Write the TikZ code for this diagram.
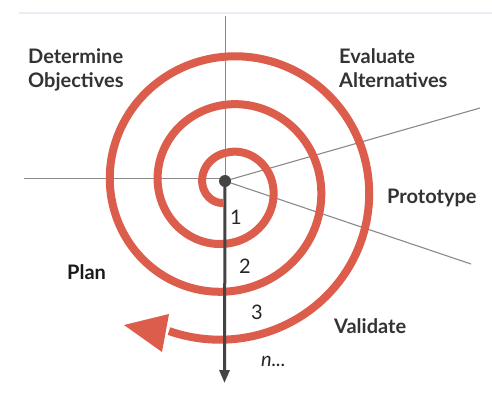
\documentclass[tikz,border=0pt]{standalone}
\usepackage{fontspec}
\setmainfont{Lato}
\usetikzlibrary{arrows.meta}
\definecolor{spiralred}{HTML}{DC5D4B}
\definecolor{txtgray}{HTML}{333333}
\definecolor{axisgray}{HTML}{8A8A8A}
\definecolor{darkgray}{HTML}{444444}
\definecolor{topline}{HTML}{E8EEF4}
\begin{document}
\begin{tikzpicture}[x=1pt,y=-1pt,
  declare function={sr(\t)=69.5+(\t-540)/7.5+max(0,(270-\t)*6/165);},
  axis/.style={draw=axisgray,line width=1.1pt},
  spiral/.style={draw=spiralred,line width=8pt},
  lbl/.style={inner sep=0pt,anchor=base west,text=txtgray,font=\bfseries\fontsize{20}{24}\selectfont},
  num/.style={inner sep=0pt,anchor=base,text=black!85,font=\fontsize{20}{24}\selectfont},
  darrow/.style={draw=darkgray,line width=3pt,-{Triangle[width=10pt,length=13pt]}}]
\useasboundingbox (0,0) rectangle (492,400);
\fill[white] (0,0) rectangle (492,400);
% top rule
\coordinate (tl) at (19,13);
\coordinate (tr) at (492,13);
\draw[topline,line width=1.5pt] (tl) -- (tr);
% axes
\coordinate (c) at (225,181);
\coordinate (vt) at (225.5,16);
\coordinate (vc) at (225.5,181);
\coordinate (hl) at (24,178.5);
\coordinate (hc) at (225,178.5);
\coordinate (ur) at (480,108);
\coordinate (lr) at (471,264);
\coordinate (ab) at (224.5,383);
\draw[axis] (vt) -- (vc);
\draw[axis] (hl) -- (hc);
\draw[axis] (c) -- (ur);
\draw[axis] (c) -- (lr);
% spiral
\draw[spiral] plot[domain=105:1192,samples=600,smooth] ({227.5+sr(\x)*cos(\x)},{186+sr(\x)*sin(\x)});
\coordinate (at) at (124,325);
\coordinate (a1) at (169,314);
\coordinate (a2) at (162,352);
\fill[spiralred] (at) -- (a1) -- (a2) -- cycle;
% dark arrow and dot
\draw[darrow] (c) -- (ab);
\fill[darkgray] (c) circle (6);
% labels
\node[lbl] (det) at (28,63) {Determine};
\node[lbl] (obj) at (28,87) {Objectives};
\node[lbl] (eva) at (339,63) {Evaluate};
\node[lbl] (alt) at (339,87) {Alternatives};
\node[lbl] (pro) at (387,203) {Prototype};
\node[lbl,text=black!90] (pla) at (67,279) {Plan};
\node[lbl] (val) at (334,333) {Validate};
\node[num] (n1) at (236,224) {1};
\node[num] (n2) at (245,273) {2};
\node[num] (n3) at (257,319) {3};
\node[num,font=\itshape\fontsize{20}{24}\selectfont] (nn) at (273.5,366) {n...};
\end{tikzpicture}
\end{document}
